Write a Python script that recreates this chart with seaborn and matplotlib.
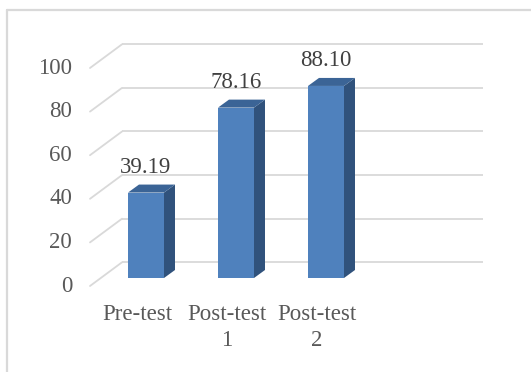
import matplotlib
matplotlib.use("Agg")
import matplotlib.pyplot as plt
from matplotlib.patches import Polygon
from matplotlib.lines import Line2D
import seaborn as sns
import pandas as pd

# Chart data
categories = ["Pre-test", "Post-test\n1", "Post-test\n2"]
scores = [39.19, 78.16, 88.10]
tick_values = [0, 20, 40, 60, 80, 100]

sns.set_theme(style="white")
plt.rcParams["font.family"] = ["Liberation Serif", "DejaVu Serif"]

W, H = 531, 372
fig = plt.figure(figsize=(W / 100, H / 100), dpi=100)
ax = fig.add_axes([0, 0, 1, 1])

# scale: one category step = 90 px, one value unit = 2.18 px
CX = 90.0
VY = 2.18
x0_px, base_px = 146.0, 94.0     # first bar centre / bar-plane baseline (px)

def px_to_cat(dx):
    return dx / CX

def px_to_val(dy):
    return dy / VY

# depth offsets of the pseudo-3D planes relative to the bar front plane
front_dx, front_dy = px_to_cat(-11), px_to_val(-8)
wall_dx, wall_dy = px_to_cat(21), px_to_val(15.7)
bar_dx, bar_dy = px_to_cat(11), px_to_val(8)
grid_right = px_to_cat(483 - x0_px)

df = pd.DataFrame({"category": categories, "score": scores})
sns.barplot(data=df, x="category", y="score", width=0.4, color="#4F81BD",
            saturation=1, ax=ax, zorder=3, edgecolor="none")

grid_c = "#D9D9D9"
front_x = px_to_cat(90 - x0_px)
wall_x = front_x + (wall_dx - front_dx)
for k in tick_values:
    yb = k + wall_dy
    yf = k + front_dy
    ax.plot([wall_x, grid_right], [yb, yb], color=grid_c, lw=1.3, zorder=1,
            solid_capstyle="butt")
    ax.plot([front_x, wall_x], [yf, yb], color=grid_c, lw=1.3, zorder=1)
    ax.text(px_to_cat(72 - x0_px), yf, f"{k}", ha="right", va="center",
            fontsize=16.5, color="#595959")

side_c = "#30527C"
top_c = "#3B6496"
for patch, val in zip(ax.patches, scores):
    x = patch.get_x()
    w = patch.get_width()
    h = patch.get_height()
    side = Polygon([(x + w, 0), (x + w + bar_dx, bar_dy),
                    (x + w + bar_dx, h + bar_dy), (x + w, h)],
                   closed=True, facecolor=side_c, edgecolor="none", zorder=2)
    top = Polygon([(x, h), (x + bar_dx, h + bar_dy),
                   (x + w + bar_dx, h + bar_dy), (x + w, h)],
                  closed=True, facecolor=top_c, edgecolor="none", zorder=3)
    ax.add_patch(side)
    ax.add_patch(top)
    ax.text(x + w / 2, h + bar_dy + px_to_val(17), f"{val:.2f}",
            ha="center", va="center", fontsize=16.5, color="#404040", zorder=4)

for i, cat in enumerate(categories):
    ax.text(i + px_to_cat(-9), px_to_val((H - 304) - base_px), cat,
            ha="center", va="top", fontsize=16.5, color="#595959",
            linespacing=1.32)

ax.set_xlim(-x0_px / CX, (W - x0_px) / CX)
ax.set_ylim(-base_px / VY, (H - base_px) / VY)
ax.axis("off")

# outer frame (top and left edges)
fig.add_artist(Line2D([6.5 / W, 1], [1 - 9.5 / H, 1 - 9.5 / H],
                      transform=fig.transFigure, color=grid_c, lw=1.6))
fig.add_artist(Line2D([6.5 / W, 6.5 / W], [0, 1 - 9.5 / H],
                      transform=fig.transFigure, color=grid_c, lw=1.6))

fig.savefig("out.png", dpi=100)
